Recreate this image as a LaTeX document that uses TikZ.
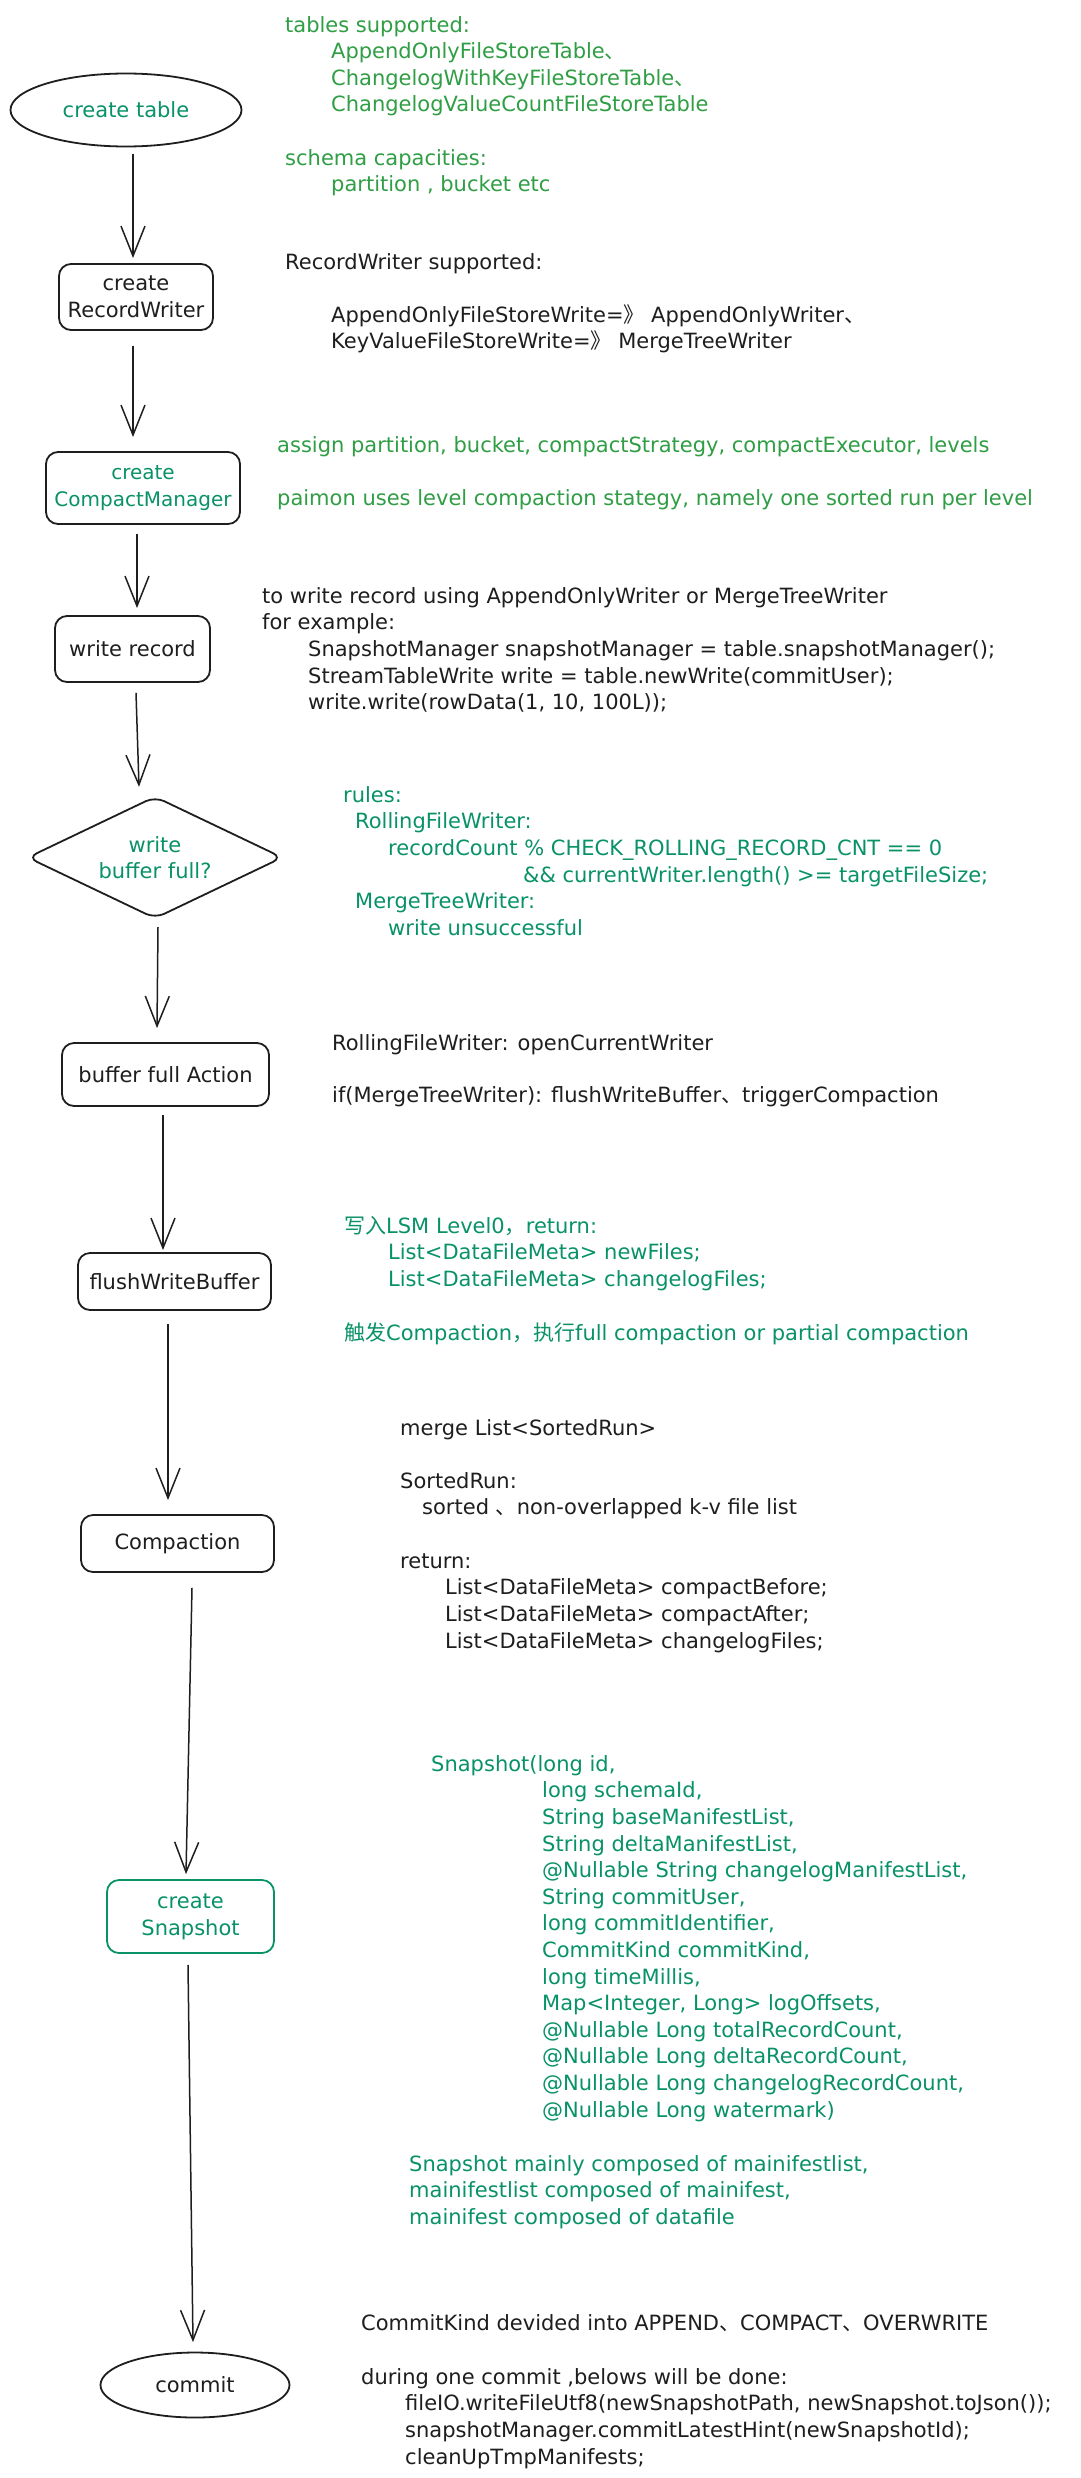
\documentclass[tikz,border=0pt]{standalone}
\usepackage{fontspec}
\setmainfont{DejaVu Sans}
\newfontfamily\cjk{Noto Sans CJK SC}
\usetikzlibrary{shapes.geometric,arrows.meta}
\definecolor{ink}{HTML}{1E1E1E}
\definecolor{grn}{HTML}{2F9E44}
\definecolor{tgreen}{HTML}{099268}
\newcommand\fl{\rule{0pt}{18pt}}
\newcommand\ind[1]{\hspace*{#1pt}}
\newcommand\cj[1]{{\cjk #1}}
\begin{document}
\begin{tikzpicture}[x=1pt,y=-1pt,
  every node/.style={font=\fontsize{21}{26.6}\selectfont},
  txt/.style={anchor=north west, inner sep=0pt, align=left, text=ink},
  gtxt/.style={txt, text=grn},
  ttxt/.style={txt, text=tgreen},
  rbox/.style={draw=ink, line width=1.8pt, rounded corners=12pt, inner sep=0pt, align=center, text=ink},
  oval/.style={ellipse, draw=ink, line width=1.8pt, inner sep=0pt, align=center, text=ink},
  arr/.style={draw=ink, line width=1.5pt, -{Straight Barb[length=30pt,width=24pt,line width=1.5pt]}},
]
\fill[white] (0,0) rectangle (1080,2478);
\useasboundingbox (0,0) rectangle (1080,2478);

% flow nodes
\node[oval, text=tgreen, minimum width=231pt, minimum height=73pt] (ct) at (126,110) {create table};
\node[rbox, minimum width=154pt, minimum height=66pt] (rw) at (136,297) {create\\RecordWriter};
\node[rbox, text=tgreen, font=\fontsize{20}{26.6}\selectfont, minimum width=194pt, minimum height=72pt] (cm) at (143,488) {create\\CompactManager};
\node[rbox, minimum width=155pt, minimum height=66pt] (wr) at (132.5,649) {write record};
\node[inner sep=0pt, align=center, text=tgreen, minimum width=254pt, minimum height=121pt] (bf) at (155,857.5) {write\\buffer full?};
\draw[draw=ink, line width=1.8pt, rounded corners=10pt] (bf.north) -- (bf.east) -- (bf.south) -- (bf.west) -- cycle;
\node[rbox, minimum width=207pt, minimum height=63pt] (bfa) at (165.5,1074.5) {buffer full Action};
\node[rbox, minimum width=193pt, minimum height=57pt] (fwb) at (174.5,1281.5) {flushWriteBuffer};
\node[rbox, minimum width=193pt, minimum height=57pt] (comp) at (177.5,1543.5) {Compaction};
\node[rbox, draw=tgreen, text=tgreen, minimum width=167pt, minimum height=73pt] (snap) at (190.5,1916.5) {create\\Snapshot};
\node[oval, minimum width=189pt, minimum height=65pt] (cmt) at (195,2385) {commit};

% connectors
\draw[arr] ([shift={(7,7)}]ct.south) -- ([shift={(-3,-5)}]rw.north);
\draw[arr] ([shift={(-3,15)}]rw.south) -- ([shift={(-10,-14)}]cm.north);
\draw[arr] ([shift={(-6,9)}]cm.south) -- ([shift={(4.5,-7)}]wr.north);
\draw[arr] ([shift={(3.5,10)}]wr.south) -- ([shift={(-16,-10)}]bf.north);
\draw[arr] ([shift={(3,9)}]bf.south) -- ([shift={(-8.5,-14)}]bfa.north);
\draw[arr] ([shift={(-2.5,8)}]bfa.south) -- ([shift={(-11.5,-2)}]fwb.north);
\draw[arr] ([shift={(-6.5,13)}]fwb.south) -- ([shift={(-9.5,-14)}]comp.north);
\draw[arr] ([shift={(14.5,15)}]comp.south) -- ([shift={(-4.5,-5)}]snap.north);
\draw[arr] ([shift={(-2.5,11)}]snap.south) -- ([shift={(-2,-9.5)}]cmt.north);

% annotations
\node[gtxt] (b1) at (285,14) {\fl tables supported:\\
\ind{46}AppendOnlyFileStoreTable\cj{、}\\
\ind{46}ChangelogWithKeyFileStoreTable\cj{、}\\
\ind{46}ChangelogValueCountFileStoreTable};
\node[gtxt] (b2) at (285,147) {\fl schema capacities:\\
\ind{46}partition , bucket etc};
\node[txt] (b3) at (285,251) {\fl RecordWriter supported:};
\node[txt] (b4) at (331,304) {\fl AppendOnlyFileStoreWrite=\cj{》} AppendOnlyWriter\cj{、}\\
KeyValueFileStoreWrite=\cj{》} MergeTreeWriter};
\node[gtxt] (b5) at (277,434) {\fl assign partition, bucket, compactStrategy, compactExecutor, levels};
\node[gtxt] (b6) at (277,487) {\fl paimon uses level compaction stategy, namely one sorted run per level};
\node[txt] (b7) at (262,585) {\fl to write record using AppendOnlyWriter or MergeTreeWriter\\
for example:\\
\ind{46}SnapshotManager snapshotManager = table.snapshotManager();\\
\ind{46}StreamTableWrite write = table.newWrite(commitUser);\\
\ind{46}write.write(rowData(1, 10, 100L));};
\node[ttxt] (b8) at (343,784) {\fl rules:\\
\ind{12}RollingFileWriter:\\
\ind{45}recordCount \% CHECK\_ROLLING\_RECORD\_CNT == 0\\
\ind{180}\&\& currentWriter.length() >= targetFileSize;\\
\ind{12}MergeTreeWriter:\\
\ind{45}write unsuccessful};
\node[txt] (b9) at (332,1032) {\fl RollingFileWriter: openCurrentWriter};
\node[txt] (b10) at (332,1084) {\fl if(MergeTreeWriter): flushWriteBuffer\cj{、}triggerCompaction};
\node[ttxt] (b11) at (344,1215) {\fl \cj{写入}LSM Level0\cj{，}return:\\
\ind{44}List<DataFileMeta> newFiles;\\
\ind{44}List<DataFileMeta> changelogFiles;};
\node[ttxt] (b12) at (344,1322) {\fl \cj{触发}Compaction\cj{，执行}full compaction or partial compaction};
\node[txt] (b13) at (400,1417) {\fl merge List<SortedRun>};
\node[txt] (b14) at (400,1470) {\fl SortedRun:\\
\ind{22}sorted \cj{、}non-overlapped k-v file list};
\node[txt] (b15) at (400,1550) {\fl return:\\
\ind{45}List<DataFileMeta> compactBefore;\\
\ind{45}List<DataFileMeta> compactAfter;\\
\ind{45}List<DataFileMeta> changelogFiles;};
\node[ttxt] (b16) at (431,1753) {\fl Snapshot(long id,\\
\ind{111}long schemaId,\\
\ind{111}String baseManifestList,\\
\ind{111}String deltaManifestList,\\
\ind{111}@Nullable String changelogManifestList,\\
\ind{111}String commitUser,\\
\ind{111}long commitIdentifier,\\
\ind{111}CommitKind commitKind,\\
\ind{111}long timeMillis,\\
\ind{111}Map<Integer, Long> logOffsets,\\
\ind{111}@Nullable Long totalRecordCount,\\
\ind{111}@Nullable Long deltaRecordCount,\\
\ind{111}@Nullable Long changelogRecordCount,\\
\ind{111}@Nullable Long watermark)};
\node[ttxt] (b17) at (409,2153) {\fl Snapshot mainly composed of mainifestlist,\\
mainifestlist composed of mainifest,\\
mainifest composed of datafile};
\node[txt] (b18) at (361,2312) {\fl CommitKind devided into APPEND\cj{、}COMPACT\cj{、}OVERWRITE};
\node[txt] (b19) at (361,2366) {\fl during one commit ,belows will be done:\\
\ind{44}fileIO.writeFileUtf8(newSnapshotPath, newSnapshot.toJson());\\
\ind{44}snapshotManager.commitLatestHint(newSnapshotId);\\
\ind{44}cleanUpTmpManifests;};
\end{tikzpicture}
\end{document}
